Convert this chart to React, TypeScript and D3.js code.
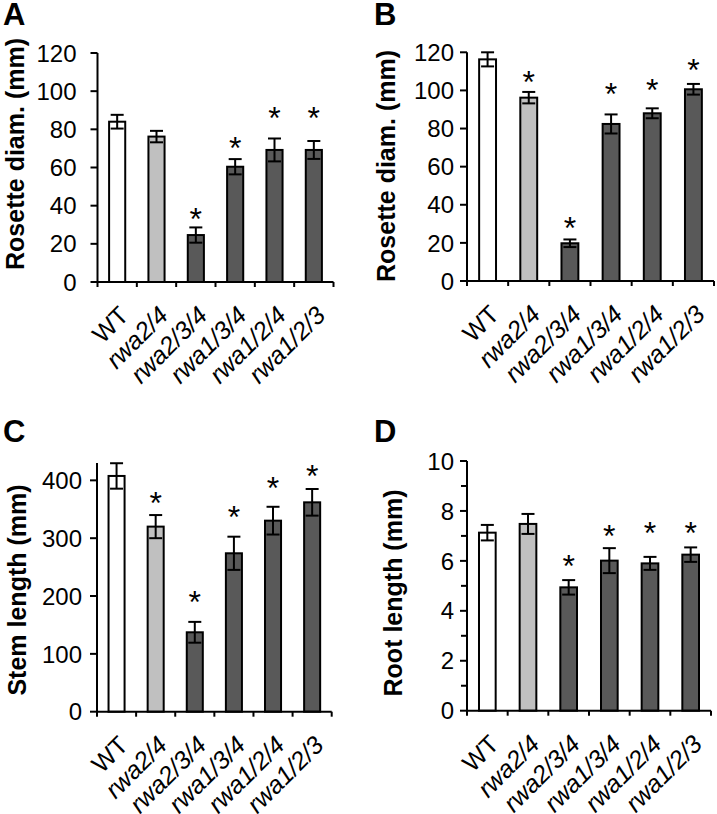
import React, { useEffect, useRef } from 'react';
import * as d3 from 'd3';

const categories = ['WT', 'rwa2/4', 'rwa2/3/4', 'rwa1/3/4', 'rwa1/2/4', 'rwa1/2/3'];

// A: rosette diameter, first condition
const rosetteA = [84, 76.2, 24.6, 60.4, 69.2, 69.2];
const rosetteAErr = [3.6, 3, 4, 4, 6, 4.7];
const rosetteAStars = [null, null, 36.9, 74.4, 90.1, 90.1];

// B: rosette diameter, second condition
const rosetteB = [116.3, 96.2, 19.8, 82.4, 88, 100.6];
const rosetteBErr = [3.7, 3, 2, 5, 2.6, 2.8];
const rosetteBStars = [null, 108.1, 32, 102.3, 104, 114.5];

// C: stem length
const stemC = [407.6, 320, 137.3, 273.9, 330.3, 362];
const stemCErr = [22, 20, 18, 28.7, 24, 23];
const stemCStars = [null, 373, 201.8, 348.8, 399, 420.9];

// D: root length
const rootD = [7.13, 7.48, 4.94, 6.01, 5.9, 6.25];
const rootDErr = [0.31, 0.4, 0.29, 0.5, 0.26, 0.29];
const rootDStars = [null, null, 6.1, 7.3, 7.4, 7.4];

const fills = ['#ffffff', '#c0c0c0', '#595959', '#595959', '#595959', '#595959'];
const FONT = '"Liberation Sans", Arial, sans-serif';

interface PanelCfg {
  letter: string;
  letterX: number;
  letterY: number;
  values: number[];
  errs: number[];
  stars: (number | null)[];
  max: number;
  ticks: number[];
  minor?: number[];
  x0: number;
  x1: number;
  yBottom: number;
  yTop: number;
  labelGap: number;
  yLabel: string;
  yLabelX: number;
  yLabelY: number;
}

const panels: PanelCfg[] = [
  {
    letter: 'A', letterX: 3, letterY: 25,
    values: rosetteA, errs: rosetteAErr, stars: rosetteAStars,
    max: 120, ticks: d3.range(0, 121, 20),
    x0: 97.5, x1: 333.5, yBottom: 282, yTop: 53, labelGap: 21,
    yLabel: 'Rosette diam. (mm)', yLabelX: 24, yLabelY: 154,
  },
  {
    letter: 'B', letterX: 374, letterY: 25,
    values: rosetteB, errs: rosetteBErr, stars: rosetteBStars,
    max: 120, ticks: d3.range(0, 121, 20),
    x0: 467, x1: 714, yBottom: 281, yTop: 52.3, labelGap: 13,
    yLabel: 'Rosette diam. (mm)', yLabelX: 395, yLabelY: 166,
  },
  {
    letter: 'C', letterX: 3, letterY: 442,
    values: stemC, errs: stemCErr, stars: stemCStars,
    max: 430, ticks: d3.range(0, 401, 100),
    x0: 97, x1: 331.7, yBottom: 711.7, yTop: 463, labelGap: 15,
    yLabel: 'Stem length (mm)', yLabelX: 26, yLabelY: 590,
  },
  {
    letter: 'D', letterX: 374, letterY: 442,
    values: rootD, errs: rootDErr, stars: rootDStars,
    max: 10, ticks: d3.range(0, 11, 2), minor: d3.range(1, 10, 2),
    x0: 467, x1: 711, yBottom: 710.7, yTop: 461, labelGap: 13,
    yLabel: 'Root length (mm)', yLabelX: 402, yLabelY: 593,
  },
];

function drawPanel(root: d3.Selection<SVGSVGElement, unknown, null, undefined>, p: PanelCfg) {
  const g = root.append('g');
  const y = d3.scaleLinear().domain([0, p.max]).range([p.yBottom, p.yTop]);
  const x = d3.scaleBand<string>()
    .domain(categories)
    .range([p.x0, p.x1])
    .paddingInner(0.59)
    .paddingOuter(0.295);
  const step = x.step();
  const bw = x.bandwidth();

  // panel letter
  g.append('text')
    .attr('x', p.letterX).attr('y', p.letterY)
    .attr('font-family', FONT).attr('font-weight', 'bold').attr('font-size', 31)
    .text(p.letter);

  // y label
  g.append('text')
    .attr('transform', `translate(${p.yLabelX},${p.yLabelY}) rotate(-90)`)
    .attr('text-anchor', 'middle')
    .attr('font-family', FONT).attr('font-weight', 'bold').attr('font-size', 25)
    .text(p.yLabel);

  // bars
  categories.forEach((c, i) => {
    const v = p.values[i];
    g.append('rect')
      .attr('x', x(c)!).attr('width', bw)
      .attr('y', y(v)).attr('height', y(0) - y(v))
      .attr('fill', fills[i]).attr('stroke', '#000').attr('stroke-width', 2);
  });

  // error bars
  categories.forEach((c, i) => {
    const cx = x(c)! + bw / 2;
    const hi = y(p.values[i] + p.errs[i]);
    const lo = y(p.values[i] - p.errs[i]);
    const eg = g.append('g').attr('stroke', '#000').attr('stroke-width', 2);
    eg.append('line').attr('x1', cx).attr('x2', cx).attr('y1', hi).attr('y2', lo);
    eg.append('line').attr('x1', cx - 6.5).attr('x2', cx + 6.5).attr('y1', hi).attr('y2', hi);
    eg.append('line').attr('x1', cx - 6.5).attr('x2', cx + 6.5).attr('y1', lo).attr('y2', lo);
  });

  // asterisks
  categories.forEach((c, i) => {
    const s = p.stars[i];
    if (s == null) return;
    g.append('text')
      .attr('x', x(c)! + bw / 2).attr('y', y(s) + 18.5)
      .attr('text-anchor', 'middle')
      .attr('font-family', FONT).attr('font-size', 32)
      .text('*');
  });

  // y axis
  const ax = g.append('g').attr('stroke', '#000').attr('stroke-width', 2);
  ax.append('line').attr('x1', p.x0).attr('x2', p.x0).attr('y1', p.yBottom + 1).attr('y2', p.yTop);
  p.ticks.forEach((t) => {
    ax.append('line').attr('x1', p.x0 - 7).attr('x2', p.x0).attr('y1', y(t)).attr('y2', y(t));
  });
  (p.minor || []).forEach((t) => {
    ax.append('line').attr('x1', p.x0 - 6).attr('x2', p.x0).attr('y1', y(t)).attr('y2', y(t));
  });
  p.ticks.forEach((t) => {
    g.append('text')
      .attr('x', p.x0 - p.labelGap).attr('y', y(t)).attr('dy', '0.36em')
      .attr('text-anchor', 'end')
      .attr('font-family', FONT).attr('font-size', 24)
      .text(String(t));
  });

  // x axis
  ax.append('line').attr('x1', p.x0).attr('x2', p.x1).attr('y1', p.yBottom).attr('y2', p.yBottom);
  d3.range(categories.length + 1).forEach((k) => {
    const tx = p.x0 + k * step;
    ax.append('line').attr('x1', tx).attr('x2', tx).attr('y1', p.yBottom).attr('y2', p.yBottom + 5);
  });
  categories.forEach((c, i) => {
    const cx = x(c)! + bw / 2;
    g.append('text')
      .attr('transform', `translate(${cx + 13},${p.yBottom + 35}) rotate(-45)`)
      .attr('text-anchor', 'end')
      .attr('font-family', FONT).attr('font-size', 25)
      .attr('font-style', i === 0 ? 'normal' : 'italic')
      .text(c);
  });
}

export default function App() {
  const svgRef = useRef<SVGSVGElement>(null);

  useEffect(() => {
    if (!svgRef.current) return;
    const svg = d3.select(svgRef.current);
    svg.selectAll('*').remove();
    svg.append('rect').attr('width', 717).attr('height', 814).attr('fill', '#fff');
    panels.forEach((p) => drawPanel(svg, p));
  }, []);

  return (
    <svg
      ref={svgRef}
      width={717}
      height={814}
      style={{ position: 'absolute', left: 0, top: 0 }}
    />
  );
}
